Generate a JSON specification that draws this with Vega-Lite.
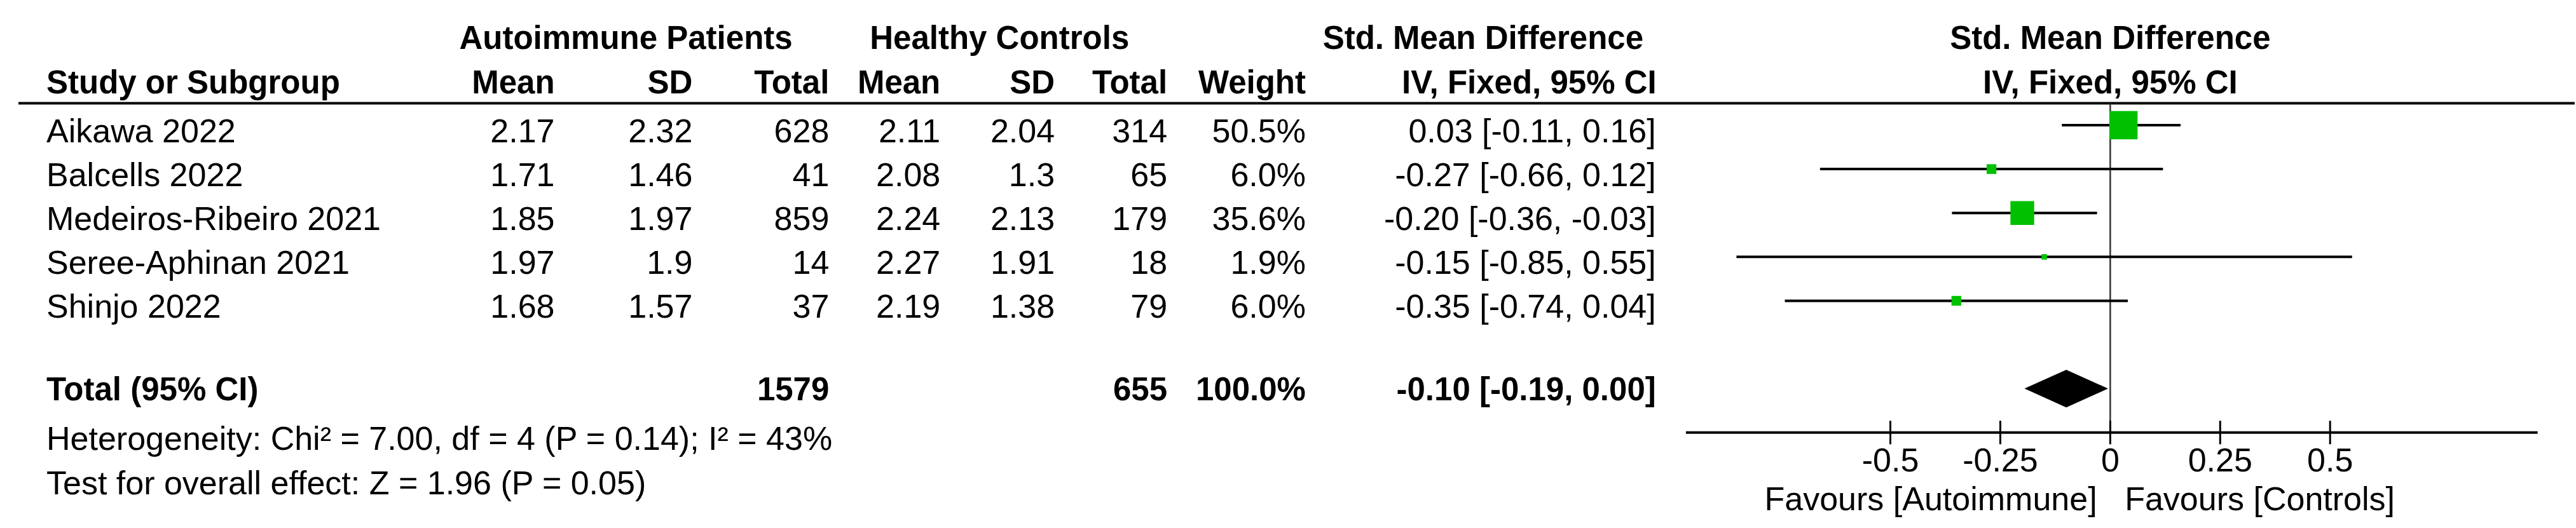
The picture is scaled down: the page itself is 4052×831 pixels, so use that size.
{
  "$schema": "https://vega.github.io/schema/vega-lite/v6.json",
  "width": 4052,
  "height": 831,
  "autosize": {"type": "fit", "contains": "padding"},
  "padding": 0,
  "background": "#ffffff",
  "datasets": {
    "studies": [
      {"study": "Aikawa 2022", "row": 1, "aMean": 2.17, "aSD": 2.32, "aN": 628, "cMean": 2.11, "cSD": 2.04, "cN": 314, "weight": 0.505, "smd": 0.03, "lo": -0.11, "hi": 0.16, "ci": "0.03 [-0.11, 0.16]"},
      {"study": "Balcells 2022", "row": 2, "aMean": 1.71, "aSD": 1.46, "aN": 41, "cMean": 2.08, "cSD": 1.3, "cN": 65, "weight": 0.06, "smd": -0.27, "lo": -0.66, "hi": 0.12, "ci": "-0.27 [-0.66, 0.12]"},
      {"study": "Medeiros-Ribeiro 2021", "row": 3, "aMean": 1.85, "aSD": 1.97, "aN": 859, "cMean": 2.24, "cSD": 2.13, "cN": 179, "weight": 0.356, "smd": -0.2, "lo": -0.36, "hi": -0.03, "ci": "-0.20 [-0.36, -0.03]"},
      {"study": "Seree-Aphinan 2021", "row": 4, "aMean": 1.97, "aSD": 1.9, "aN": 14, "cMean": 2.27, "cSD": 1.91, "cN": 18, "weight": 0.019, "smd": -0.15, "lo": -0.85, "hi": 0.55, "ci": "-0.15 [-0.85, 0.55]"},
      {"study": "Shinjo 2022", "row": 5, "aMean": 1.68, "aSD": 1.57, "aN": 37, "cMean": 2.19, "cSD": 1.38, "cN": 79, "weight": 0.06, "smd": -0.35, "lo": -0.74, "hi": 0.04, "ci": "-0.35 [-0.74, 0.04]"}
    ],
    "total": [
      {"label": "Total (95% CI)", "row": 7, "aN": 1579, "cN": 655, "weight": 1.0, "smd": -0.1, "lo": -0.19, "hi": 0.0, "ci": "-0.10 [-0.19, 0.00]"}
    ],
    "notes": [
      {"row": 8, "text": "Heterogeneity: Chi² = 7.00, df = 4 (P = 0.14); I² = 43%"},
      {"row": 9, "text": "Test for overall effect: Z = 1.96 (P = 0.05)"}
    ],
    "ticks": [{"tick": -0.5}, {"tick": -0.25}, {"tick": 0}, {"tick": 0.25}, {"tick": 0.5}]
  },
  "layer": [
    {
      "data": {"values": [{}]},
      "mark": {"type": "rule", "strokeWidth": 4, "color": "#000000"},
      "encoding": {
        "x": {"datum": -4.7572, "type": "quantitative", "scale": {"domain": [-4.79913, 1.05636], "nice": false, "zero": false}, "axis": null},
        "x2": {"datum": 1.05636},
        "y": {"datum": 0.5, "type": "quantitative", "scale": {"domain": [-1.851, 10.175], "nice": false, "zero": false, "reverse": true}, "axis": null}
      }
    },
    {
      "data": {"values": [{}]},
      "mark": {"type": "rule", "strokeWidth": 2.5, "color": "#333333"},
      "encoding": {"x": {"datum": 0}, "y": {"datum": 0.5}, "y2": {"datum": 8}}
    },
    {
      "data": {"name": "studies"},
      "mark": {"type": "rule", "strokeWidth": 4, "color": "#000000"},
      "encoding": {
        "x": {"field": "lo", "type": "quantitative"},
        "x2": {"field": "hi"},
        "y": {"field": "row", "type": "quantitative"}
      }
    },
    {
      "data": {"name": "studies"},
      "mark": {"type": "point", "shape": "square", "filled": true, "color": "#00c000", "opacity": 1, "strokeWidth": 0},
      "encoding": {
        "x": {"field": "smd", "type": "quantitative"},
        "y": {"field": "row", "type": "quantitative"},
        "size": {"field": "weight", "type": "quantitative", "scale": {"domain": [0, 0.505], "range": [0, 1980], "zero": true}, "legend": null}
      }
    },
    {
      "data": {"name": "total"},
      "mark": {"type": "point", "shape": "M-1,0L0,-0.45L1,0L0,0.45Z", "filled": true, "color": "#000000", "opacity": 1, "size": 17292, "strokeWidth": 0},
      "encoding": {
        "x": {"field": "smd", "type": "quantitative"},
        "y": {"field": "row", "type": "quantitative"}
      }
    },
    {
      "data": {"values": [{}]},
      "mark": {"type": "rule", "strokeWidth": 4, "color": "#000000"},
      "encoding": {"x": {"datum": -0.965}, "x2": {"datum": 0.972}, "y": {"datum": 8}}
    },
    {
      "data": {"name": "ticks"},
      "mark": {"type": "rule", "strokeWidth": 3, "color": "#000000"},
      "encoding": {"x": {"field": "tick", "type": "quantitative"}, "y": {"datum": 7.732}, "y2": {"datum": 8.268}}
    },
    {
      "data": {"name": "ticks"},
      "mark": {"type": "text", "align": "center", "dy": 61.3},
      "encoding": {"x": {"field": "tick", "type": "quantitative"}, "y": {"datum": 8}, "text": {"field": "tick", "type": "nominal"}}
    },
    {
      "data": {"values": [{}]},
      "mark": {"type": "text", "align": "right", "dy": 53.2},
      "encoding": {"x": {"datum": -0.03}, "y": {"datum": 9}, "text": {"value": "Favours [Autoimmune]"}}
    },
    {
      "data": {"values": [{}]},
      "mark": {"type": "text", "align": "left", "dy": 53.2},
      "encoding": {"x": {"datum": 0.033}, "y": {"datum": 9}, "text": {"value": "Favours [Controls]"}}
    },
    {
      "data": {"values": [{}]},
      "mark": {"type": "text", "align": "center", "fontWeight": "bold", "fontSize": 51, "dy": 18.2},
      "encoding": {"x": {"datum": -3.3757}, "y": {"datum": -1}, "text": {"value": "Autoimmune Patients"}}
    },
    {
      "data": {"values": [{}]},
      "mark": {"type": "text", "align": "center", "fontWeight": "bold", "fontSize": 51, "dy": 18.2},
      "encoding": {"x": {"datum": -2.526}, "y": {"datum": -1}, "text": {"value": "Healthy Controls"}}
    },
    {
      "data": {"values": [{}]},
      "mark": {"type": "text", "align": "center", "fontWeight": "bold", "fontSize": 51, "dy": 18.2},
      "encoding": {"x": {"datum": -1.4263}, "y": {"datum": -1}, "text": {"value": "Std. Mean Difference"}}
    },
    {
      "data": {"values": [{}]},
      "mark": {"type": "text", "align": "center", "fontWeight": "bold", "fontSize": 51, "dy": 18.2},
      "encoding": {"x": {"datum": 0}, "y": {"datum": -1}, "text": {"value": "Std. Mean Difference"}}
    },
    {
      "data": {"values": [{}]},
      "mark": {"type": "text", "align": "left", "fontWeight": "bold", "fontSize": 51, "dy": 19.1},
      "encoding": {"x": {"datum": -4.6936}, "y": {"datum": 0}, "text": {"value": "Study or Subgroup"}}
    },
    {
      "data": {"values": [{}]},
      "mark": {"type": "text", "align": "right", "fontWeight": "bold", "fontSize": 51, "dy": 19.1},
      "encoding": {"x": {"datum": -3.5376}, "y": {"datum": 0}, "text": {"value": "Mean"}}
    },
    {
      "data": {"values": [{}]},
      "mark": {"type": "text", "align": "right", "fontWeight": "bold", "fontSize": 51, "dy": 19.1},
      "encoding": {"x": {"datum": -3.224}, "y": {"datum": 0}, "text": {"value": "SD"}}
    },
    {
      "data": {"values": [{}]},
      "mark": {"type": "text", "align": "right", "fontWeight": "bold", "fontSize": 51, "dy": 19.1},
      "encoding": {"x": {"datum": -2.9133}, "y": {"datum": 0}, "text": {"value": "Total"}}
    },
    {
      "data": {"values": [{}]},
      "mark": {"type": "text", "align": "right", "fontWeight": "bold", "fontSize": 51, "dy": 19.1},
      "encoding": {"x": {"datum": -2.6604}, "y": {"datum": 0}, "text": {"value": "Mean"}}
    },
    {
      "data": {"values": [{}]},
      "mark": {"type": "text", "align": "right", "fontWeight": "bold", "fontSize": 51, "dy": 19.1},
      "encoding": {"x": {"datum": -2.4003}, "y": {"datum": 0}, "text": {"value": "SD"}}
    },
    {
      "data": {"values": [{}]},
      "mark": {"type": "text", "align": "right", "fontWeight": "bold", "fontSize": 51, "dy": 19.1},
      "encoding": {"x": {"datum": -2.1445}, "y": {"datum": 0}, "text": {"value": "Total"}}
    },
    {
      "data": {"values": [{}]},
      "mark": {"type": "text", "align": "right", "fontWeight": "bold", "fontSize": 51, "dy": 19.1},
      "encoding": {"x": {"datum": -1.8295}, "y": {"datum": 0}, "text": {"value": "Weight"}}
    },
    {
      "data": {"values": [{}]},
      "mark": {"type": "text", "align": "right", "fontWeight": "bold", "fontSize": 51, "dy": 19.1},
      "encoding": {"x": {"datum": -1.0318}, "y": {"datum": 0}, "text": {"value": "IV, Fixed, 95% CI"}}
    },
    {
      "data": {"values": [{}]},
      "mark": {"type": "text", "align": "center", "fontWeight": "bold", "fontSize": 51, "dy": 19.1},
      "encoding": {"x": {"datum": 0}, "y": {"datum": 0}, "text": {"value": "IV, Fixed, 95% CI"}}
    },
    {
      "data": {"name": "studies"},
      "mark": {"type": "text", "align": "left", "dy": 27},
      "encoding": {"x": {"datum": -4.6936}, "y": {"field": "row", "type": "quantitative"}, "text": {"field": "study", "type": "nominal"}}
    },
    {
      "data": {"name": "studies"},
      "mark": {"type": "text", "align": "right", "dy": 27},
      "encoding": {"x": {"datum": -3.5376}, "y": {"field": "row", "type": "quantitative"}, "text": {"field": "aMean", "type": "nominal"}}
    },
    {
      "data": {"name": "studies"},
      "mark": {"type": "text", "align": "right", "dy": 27},
      "encoding": {"x": {"datum": -3.224}, "y": {"field": "row", "type": "quantitative"}, "text": {"field": "aSD", "type": "nominal"}}
    },
    {
      "data": {"name": "studies"},
      "mark": {"type": "text", "align": "right", "dy": 27},
      "encoding": {"x": {"datum": -2.9133}, "y": {"field": "row", "type": "quantitative"}, "text": {"field": "aN", "type": "nominal"}}
    },
    {
      "data": {"name": "studies"},
      "mark": {"type": "text", "align": "right", "dy": 27},
      "encoding": {"x": {"datum": -2.6604}, "y": {"field": "row", "type": "quantitative"}, "text": {"field": "cMean", "type": "nominal"}}
    },
    {
      "data": {"name": "studies"},
      "mark": {"type": "text", "align": "right", "dy": 27},
      "encoding": {"x": {"datum": -2.4003}, "y": {"field": "row", "type": "quantitative"}, "text": {"field": "cSD", "type": "nominal"}}
    },
    {
      "data": {"name": "studies"},
      "mark": {"type": "text", "align": "right", "dy": 27},
      "encoding": {"x": {"datum": -2.1445}, "y": {"field": "row", "type": "quantitative"}, "text": {"field": "cN", "type": "nominal"}}
    },
    {
      "data": {"name": "studies"},
      "mark": {"type": "text", "align": "right", "dy": 27},
      "encoding": {"x": {"datum": -1.8295}, "y": {"field": "row", "type": "quantitative"}, "text": {"field": "weight", "type": "quantitative", "format": ".1%"}}
    },
    {
      "data": {"name": "studies"},
      "mark": {"type": "text", "align": "right", "dy": 27},
      "encoding": {"x": {"datum": -1.0332}, "y": {"field": "row", "type": "quantitative"}, "text": {"field": "ci", "type": "nominal"}}
    },
    {
      "data": {"name": "total"},
      "mark": {"type": "text", "align": "left", "fontWeight": "bold", "fontSize": 51, "dy": 18.4},
      "encoding": {"x": {"datum": -4.6936}, "y": {"field": "row", "type": "quantitative"}, "text": {"field": "label", "type": "nominal"}}
    },
    {
      "data": {"name": "total"},
      "mark": {"type": "text", "align": "right", "fontWeight": "bold", "fontSize": 51, "dy": 18.4},
      "encoding": {"x": {"datum": -2.9133}, "y": {"field": "row", "type": "quantitative"}, "text": {"field": "aN", "type": "nominal"}}
    },
    {
      "data": {"name": "total"},
      "mark": {"type": "text", "align": "right", "fontWeight": "bold", "fontSize": 51, "dy": 18.4},
      "encoding": {"x": {"datum": -2.1445}, "y": {"field": "row", "type": "quantitative"}, "text": {"field": "cN", "type": "nominal"}}
    },
    {
      "data": {"name": "total"},
      "mark": {"type": "text", "align": "right", "fontWeight": "bold", "fontSize": 51, "dy": 18.4},
      "encoding": {"x": {"datum": -1.8295}, "y": {"field": "row", "type": "quantitative"}, "text": {"field": "weight", "type": "quantitative", "format": ".1%"}}
    },
    {
      "data": {"name": "total"},
      "mark": {"type": "text", "align": "right", "fontWeight": "bold", "fontSize": 51, "dy": 18.4},
      "encoding": {"x": {"datum": -1.0332}, "y": {"field": "row", "type": "quantitative"}, "text": {"field": "ci", "type": "nominal"}}
    },
    {
      "data": {"name": "notes"},
      "mark": {"type": "text", "align": "left", "dy": 27.7},
      "encoding": {"x": {"datum": -4.6936}, "y": {"field": "row", "type": "quantitative"}, "text": {"field": "text", "type": "nominal"}}
    }
  ],
  "config": {
    "view": {"stroke": null},
    "axis": {"disable": true},
    "text": {"font": "Liberation Sans", "fontSize": 52, "fill": "#000000", "baseline": "alphabetic"}
  }
}
